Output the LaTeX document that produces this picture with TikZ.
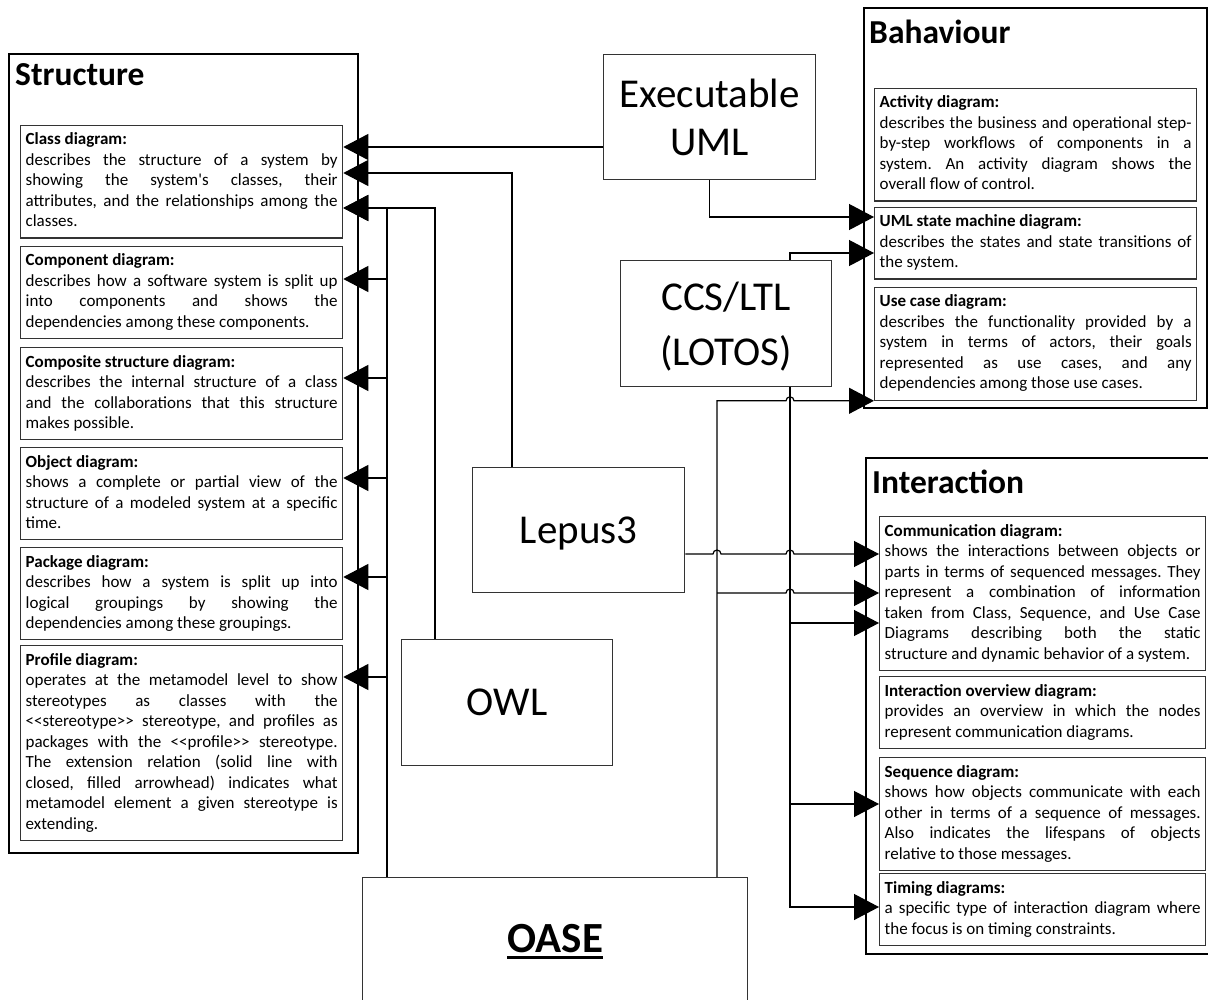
\documentclass[tikz,border=0pt]{standalone}
\usepackage{fontspec}
\setmainfont{Carlito}
\usetikzlibrary{arrows.meta,calc}
\newcommand{\lt}{<\kern0pt<}
\newcommand{\gt}{>\kern0pt>}
\frenchspacing
\begin{document}
\begin{tikzpicture}[x=1pt,y=-1pt,
  group/.style={draw=black,line width=2pt,anchor=north west,inner sep=0pt},
  grouptitle/.style={anchor=base west,inner sep=0pt,font=\fontsize{33.5}{40}\selectfont\bfseries},
  card/.style={draw=black!80,line width=1.3pt,anchor=north west,inner xsep=5pt,inner ysep=5pt,align=justify,font=\fontsize{17}{20.5}\selectfont\frenchspacing},
  lcard/.style={card,text width=312pt},
  rcard/.style={card,text width=316pt},
  tool/.style={draw=black!80,line width=1.3pt,anchor=north west,align=center,text depth=0pt,font=\fontsize{41}{48}\selectfont},
  conn/.style={draw=black,line width=1.2pt},
  arr/.style={conn,-{Triangle[length=25pt,width=26pt]}},
]
\useasboundingbox (0,0) rectangle (1208,1000);
\clip (0,0) rectangle (1208,1000);

% ---------- group frames ----------
\node[group,minimum width=349pt,minimum height=799pt] (structure) at (8,53) {};
\node[grouptitle] (structuretitle) at (15,86) {Structure};
\node[group,minimum width=343pt,minimum height=400pt] (behaviour) at (863,7) {};
\node[grouptitle] (behaviourtitle) at (869,44) {Bahaviour};
\node[group,minimum width=350pt,minimum height=496pt] (interaction) at (865,457) {};
\node[grouptitle] (interactiontitle) at (872,493) {Interaction};

% ---------- structure diagrams ----------
\node[lcard] (class) at (20,125) {\strut\textbf{Class diagram:}\\describes the structure of a system by\linebreak showing the system\textquotesingle s classes, their\linebreak attributes, and the relationships among the\linebreak classes.\strut};
\node[lcard] (component) at (20,246) {\strut\textbf{Component diagram:}\\describes how a software system is split up\linebreak into components and shows the\linebreak dependencies among these components.\strut};
\node[lcard] (composite) at (20,347) {\strut\textbf{Composite structure diagram:}\\describes the internal structure of a class\linebreak and the collaborations that this structure\linebreak makes possible.\strut};
\node[lcard] (object) at (20,447) {\strut\textbf{Object diagram:}\\shows a complete or partial view of the\linebreak structure of a modeled system at a specific\linebreak time.\strut};
\node[lcard] (package) at (20,547) {\strut\textbf{Package diagram:}\\describes how a system is split up into\linebreak logical groupings by showing the\linebreak dependencies among these groupings.\strut};
\node[lcard] (profile) at (20,645) {\strut\textbf{Profile diagram:}\\operates at the metamodel level to show\linebreak stereotypes as classes with the\linebreak \lt stereotype\gt\ stereotype, and profiles as\linebreak packages with the \lt profile\gt\ stereotype.\linebreak The extension relation (solid line with\linebreak closed, filled arrowhead) indicates what\linebreak metamodel element a given stereotype is\linebreak extending.\strut};

% ---------- behaviour diagrams ----------
\node[lcard] (activity) at (874,88) {\strut\textbf{Activity diagram:}\\describes the business and operational step-\linebreak by-step workflows of components in a\linebreak system. An activity diagram shows the\linebreak overall flow of control.\strut};
\node[lcard] (statemachine) at (874,207) {\strut\textbf{UML state machine diagram:}\\describes the states and state transitions of\linebreak the system.\strut};
\node[lcard] (usecase) at (874,287) {\strut\textbf{Use case diagram:}\\describes the functionality provided by a\linebreak system in terms of actors, their goals\linebreak represented as use cases, and any\linebreak dependencies among those use cases.\strut};

% ---------- interaction diagrams ----------
\node[rcard] (communication) at (879,516) {\parfillskip=0pt\strut\textbf{Communication diagram:}\\shows the interactions between objects or\linebreak parts in terms of sequenced messages. They\linebreak represent a combination of information\linebreak taken from Class, Sequence, and Use Case\linebreak Diagrams describing both the static\linebreak structure and dynamic behavior of a system.\strut};
\node[rcard] (overview) at (879,676) {\strut\textbf{Interaction overview diagram:}\\provides an overview in which the nodes\linebreak represent communication diagrams.\strut};
\node[rcard] (sequence) at (879,757) {\strut\textbf{Sequence diagram:}\\shows how objects communicate with each\linebreak other in terms of a sequence of messages.\linebreak Also indicates the lifespans of objects\linebreak relative to those messages.\strut};
\node[rcard] (timing) at (879,873) {\strut\textbf{Timing diagrams:}\\a specific type of interaction diagram where\linebreak the focus is on timing constraints.\strut};

% ---------- tools and formalisms ----------
\node[tool,minimum width=212pt,minimum height=125pt] (exec) at (603,54) {Executable\\UML};
\node[tool,minimum width=211pt,minimum height=126pt,font=\fontsize{41}{55}\selectfont] (ccs) at (620,260) {CCS/LTL\\(LOTOS)};
\node[tool,minimum width=212pt,minimum height=125pt] (lepus) at (472,467) {Lepus3};
\node[tool,minimum width=211pt,minimum height=126pt] (owl) at (401,639) {OWL};
\node[tool,minimum width=385pt,minimum height=128pt] (oase) at (362,877) {};
\node[anchor=base,inner sep=0pt,font=\fontsize{43}{50}\selectfont\bfseries] (oaselabel) at ($(oase.north)+(0,75)$) {OASE};
\draw[line width=3pt] ($(oaselabel.base west)+(0,5)$) -- ($(oaselabel.base east)+(0,5)$);

% ---------- arrow end points ----------
\coordinate (cA) at ($(class.north east)+(0,22)$);
\coordinate (cB) at ($(class.north east)+(0,48)$);
\coordinate (cC) at ($(class.north east)+(0,83)$);
\coordinate (cD) at ($(component.north east)+(0,33)$);
\coordinate (cE) at ($(composite.north east)+(0,31)$);
\coordinate (cF) at ($(object.north east)+(0,31)$);
\coordinate (cG) at ($(package.north east)+(0,30)$);
\coordinate (cH) at ($(profile.north east)+(0,32)$);
\coordinate (sm1) at ($(statemachine.north west)+(0,10)$);
\coordinate (sm2) at ($(statemachine.north west)+(0,46)$);
\coordinate (uc1) at (usecase.south west);
\coordinate (cm1) at ($(communication.north west)+(0,38)$);
\coordinate (cm2) at ($(communication.north west)+(0,77)$);
\coordinate (cm3) at ($(communication.north west)+(0,107)$);
\coordinate (sq1) at ($(sequence.north west)+(0,47)$);
\coordinate (tm1) at ($(timing.north west)+(0,34)$);

% bus lines leaving the boxes
\coordinate (tS) at (387,0 |- oase.north);
\coordinate (tR) at (717,0 |- oase.north);
\coordinate (tC) at (790,0 |- ccs.south);

% ---------- connectors to structure ----------
\draw[arr] (exec.west |- cA) -- (cA);
\draw[arr] (512,0 |- lepus.north) |- (cB);
\draw[arr] (435,0 |- owl.north) |- (cC);
\draw[arr] (tS) |- (cC);
\draw[arr] (tS |- cD) -- (cD);
\draw[arr] (tS |- cE) -- (cE);
\draw[arr] (tS |- cF) -- (cF);
\draw[arr] (tS |- cG) -- (cG);
\draw[arr] (tS |- cH) -- (cH);

% ---------- connectors to behaviour ----------
\draw[arr] (exec.south) |- (sm1);
\draw[arr] (790,0 |- ccs.north) |- (sm2);
\draw[arr] (tR) |- ($(tC |- uc1)+(-4,0)$) arc[start angle=180,end angle=360,radius=4] -- (uc1);

% ---------- connectors to interaction ----------
\draw[arr] (lepus.east |- cm1) -- ($(tR |- cm1)+(-4,0)$) arc[start angle=180,end angle=360,radius=4]
  -- ($(tC |- cm1)+(-4,0)$) arc[start angle=180,end angle=360,radius=4] -- (cm1);
\draw[arr] (tR |- cm2) -- ($(tC |- cm2)+(-4,0)$) arc[start angle=180,end angle=360,radius=4] -- (cm2);
\draw[arr] (tC) |- (tm1);
\draw[arr] (tC |- cm3) -- (cm3);
\draw[arr] (tC |- sq1) -- (sq1);
\end{tikzpicture}
\end{document}
